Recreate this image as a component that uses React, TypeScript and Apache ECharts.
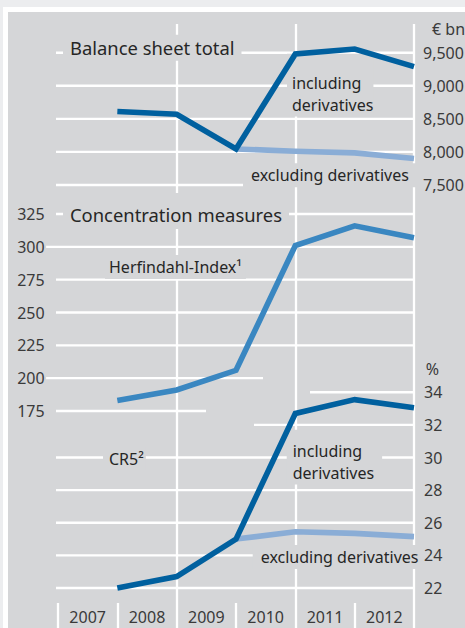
import React, { useEffect, useRef } from 'react';
import * as echarts from 'echarts';

// ---- data ----
const years = ['2007', '2008', '2009', '2010', '2011', '2012'];
const balanceIncl = [8610, 8570, 8045, 9480, 9555, 9290];
const balanceExcl = [null, null, 8045, 8010, 7985, 7900];
const herfindahl = [183, 191, 206, 301, 316, 307];
const cr5Incl = [22.0, 22.7, 25.0, 32.7, 33.55, 33.05];
const cr5Excl = [null, null, 25.0, 25.45, 25.35, 25.15];
const balanceTicks = [7500, 8000, 8500, 9000, 9500];
const herfTicks = [175, 200, 225, 250, 275, 300, 325];
const cr5Ticks = [22, 24, 26, 28, 30, 32, 34];

// ---- style ----
const PANEL = '#d5d6d8';
const DARK = '#00609f';
const MID = '#3a87c1';
const LIGHT = '#8aadd6';
const TXT = '#262626';
const TICK = '#3a3a3a';
const FONT = '"Noto Sans", "Open Sans", sans-serif';

const X0 = 58;
const X1 = 414;
const COL = (X1 - X0) / 6;
const XMIN = -0.2;
const W = 465;
const H = 628;

// year-end positions on the x scale
const pts = (vals: (number | null)[]) =>
  vals.map((v, i) => (v == null ? null : [i + 1, v])).filter((p) => p !== null) as number[][];

const u = (px: number) => (px - X0) / COL;

function buildOption() {
  const grids = [
    { left: X0 + XMIN * COL, right: W - X1, top: 19.6, bottom: H - 185 },
    { left: X0 + XMIN * COL, right: W - X1, top: 214, bottom: H - 411 },
    { left: X0 + XMIN * COL, right: W - X1, top: 392.3, bottom: H - 588 },
    { left: X0, right: W - X1, top: 24, bottom: H - 603 },
  ].map((g) => ({ ...g, containLabel: false, outerBoundsMode: 'none' }));

  const valX = (gi: number) => ({
    type: 'value', gridIndex: gi, min: XMIN, max: 6, show: false,
  });

  const tickLabel = { color: TICK, fontSize: 16, fontFamily: FONT };

  const yAxes = [
    {
      type: 'value', gridIndex: 0, position: 'right', min: balanceTicks[0], max: 10000, interval: 500,
      axisLine: { show: false }, axisTick: { show: false }, splitLine: { show: false },
      axisLabel: { ...tickLabel, margin: 9, showMaxLabel: false,
        formatter: (v: number) => (v > balanceTicks[balanceTicks.length - 1] ? '' : v.toLocaleString('en-US')) },
    },
    {
      type: 'value', gridIndex: 1, position: 'left', min: herfTicks[0], max: herfTicks[herfTicks.length - 1], interval: 25,
      axisLine: { show: false }, axisTick: { show: false }, splitLine: { show: false },
      axisLabel: { ...tickLabel, margin: 1.5 },
    },
    {
      type: 'value', gridIndex: 2, position: 'right', min: cr5Ticks[0], max: cr5Ticks[cr5Ticks.length - 1], interval: 2,
      axisLine: { show: false }, axisTick: { show: false }, splitLine: { show: false },
      axisLabel: { ...tickLabel, margin: 10 },
    },
    { type: 'value', gridIndex: 3, show: false },
  ];

  const xAxes = [
    valX(0), valX(1), valX(2),
    {
      type: 'category', gridIndex: 3, data: years, boundaryGap: true,
      axisLine: { show: false },
      axisTick: { show: true, length: 26, lineStyle: { color: '#ffffff', width: 2.3 } },
      axisLabel: { ...tickLabel, margin: 5.8, lineHeight: 16 },
      splitLine: { show: true, interval: (i: number) => i === 2 || i === 4, lineStyle: { color: '#ffffff', width: 2.3 } },
    },
  ];

  const L0 = u(56);
  const L1 = XMIN;
  const R = 6;
  const gridSeg = (gi: number, v: number, from: number, to: number) => ({
    type: 'line', xAxisIndex: gi, yAxisIndex: gi, data: [[from, v], [to, v]],
    symbol: 'none', silent: true, clip: false, z: 1, animation: false,
    lineStyle: { color: '#ffffff', width: 2.4, cap: 'butt' },
    emphasis: { disabled: true }, tooltip: { show: false },
  });

  const segs: any[] = [];
  balanceTicks.forEach((v) => segs.push(gridSeg(0, v, L0, R)));
  herfTicks.forEach((v) => {
    if (v === 200) segs.push(gridSeg(1, v, L1, u(263)));
    else if (v === 175) segs.push(gridSeg(1, v, L0, u(206)));
    else if (v === 300) segs.push(gridSeg(1, v, L1, R));
    else segs.push(gridSeg(1, v, L0, R));
  });
  cr5Ticks.forEach((v) => {
    if (v === 34) segs.push(gridSeg(2, v, u(310), R));
    else if (v === 32) segs.push(gridSeg(2, v, u(254), R));
    else segs.push(gridSeg(2, v, L0, R));
  });

  const dataLine = (name: string, gi: number, data: number[][], color: string, z: number) => ({
    name, type: 'line', xAxisIndex: gi, yAxisIndex: gi, data,
    symbol: 'none', silent: true, clip: false, z, animation: false,
    lineStyle: { color, width: 5.6, cap: 'butt', join: 'miter' },
    emphasis: { disabled: true },
  });

  const series = [
    ...segs,
    dataLine('Balance sheet total excluding derivatives', 0, pts(balanceExcl), LIGHT, 3),
    dataLine('Balance sheet total including derivatives', 0, pts(balanceIncl), DARK, 4),
    dataLine('Herfindahl-Index', 1, pts(herfindahl), MID, 3),
    dataLine('CR5 excluding derivatives', 2, pts(cr5Excl), LIGHT, 3),
    dataLine('CR5 including derivatives', 2, pts(cr5Incl), DARK, 4),
  ];

  const label = (
    text: string, x: number, y: number, size: number, lh: number,
    padding: number[], bg = true, color = TXT, va = 'top',
  ) => ({
    type: 'text', x, y, z: 2, silent: true,
    style: {
      text, fill: color, fontSize: size, fontFamily: FONT, lineHeight: lh,
      align: 'left', verticalAlign: va, textAlign: 'left', textVerticalAlign: va,
      backgroundColor: bg ? PANEL : undefined, padding,
    },
  });

  const rect = (x: number, y: number, w: number, h: number, fill: string) => ({
    type: 'rect', shape: { x, y, width: w, height: h }, style: { fill }, silent: true, z: 0,
  });

  const graphic = [
    rect(0, 0, W, 12, '#ffffff'),
    rect(0, 0, 8, H, '#ffffff'),
    rect(0, 0, W, 7, '#ecedef'),
    rect(0, 0, 3, H, '#ecedef'),
    label('Balance sheet total', 63, 34.7, 18.4, 20, [3, 7, 3, 7]),
    label('€ bn', 432, 29.2, 16, 18, [0, 0, 0, 0], false, TICK, 'middle'),
    label('including\nderivatives', 287, 53.8, 16, 21.9, [18, 0, 1, 5]),
    label('excluding derivatives', 243, 163.2, 16, 18, [3, 8, 3, 8]),
    label('Concentration measures', 63, 192.9, 18.4, 22, [11, 7, 3, 7]),
    label('Herfindahl-Index¹', 105, 254.9, 16, 18, [3, 4, 3, 4]),
    label('%', 425.7, 369.2, 16, 18, [0, 0, 0, 0], false, TICK, 'middle'),
    label('CR5²', 103, 446.5, 16, 18, [3, 2, 3, 6]),
    label('including\nderivatives', 286.7, 429.8, 16, 21.9, [10, 8, 1, 6]),
    label('excluding derivatives', 252.7, 544.9, 16, 18, [3, 2, 3, 8]),
  ];

  return {
    animation: false,
    backgroundColor: PANEL,
    textStyle: { fontFamily: FONT },
    grid: grids,
    xAxis: xAxes,
    yAxis: yAxes,
    series,
    graphic: { elements: graphic },
  };
}

export default function App() {
  const ref = useRef<HTMLDivElement>(null);
  useEffect(() => {
    if (!ref.current) return;
    const chart = echarts.init(ref.current, undefined, { renderer: 'svg', width: W, height: H });
    chart.setOption(buildOption() as any);
    return () => chart.dispose();
  }, []);
  return (
    <div
      ref={ref}
      style={{ position: 'fixed', left: 0, top: 0, width: W, height: H, overflow: 'hidden' }}
    />
  );
}
